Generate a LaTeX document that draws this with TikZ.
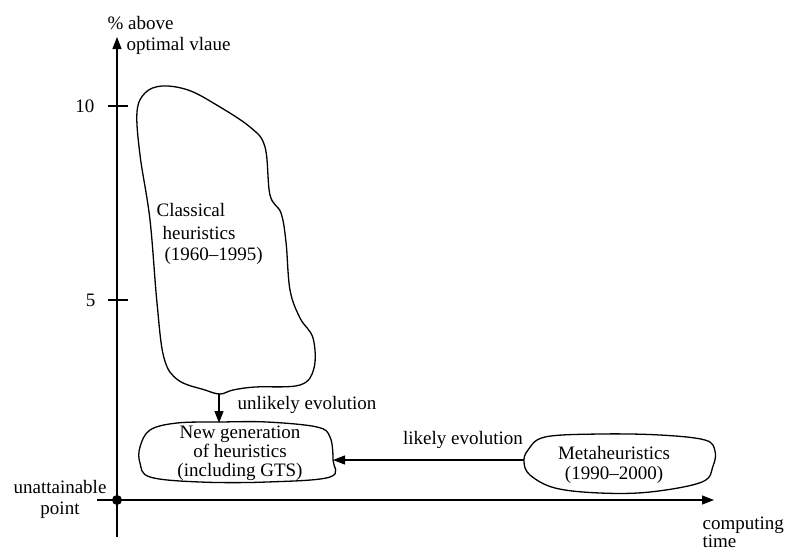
\documentclass[tikz,border=0pt]{standalone}
\usepackage{fontspec}
\setmainfont{Liberation Serif}
\usetikzlibrary{arrows.meta}
\begin{document}
\begin{tikzpicture}[x=1pt,y=-1pt,
  line width=1.2pt,
  txt/.style={inner sep=0pt,font=\fontsize{19}{23}\selectfont},
  arr/.style={-{Triangle[length=12pt,width=9pt]}},
  blob/.style={line width=1.3pt}]
\useasboundingbox (0,0) rectangle (787,550);
% axes
\coordinate (ybot) at (117,537);
\coordinate (ytop) at (117,37);
\coordinate (xleft) at (97,500);
\coordinate (xtip) at (714,500);
\coordinate (O) at (117,500);
\draw[arr] (ybot) -- (ytop);
\draw[arr] (xleft) -- (xtip);
\fill (O) circle (5);
% ticks
\coordinate (t10a) at (108,106); \coordinate (t10b) at (128,106);
\coordinate (t5a) at (108,300); \coordinate (t5b) at (128,300);
\draw (t10a) -- (t10b);
\draw (t5a) -- (t5b);
% axis labels
\node[txt,anchor=west] (pa) at (107,23) {\% above};
\node[txt,anchor=west] (ov) at (126,46) {optimal vlaue};
\node[txt,anchor=east] (l10) at (95,106) {10};
\node[txt,anchor=east] (l5) at (96,300) {5};
\node[txt,align=center,font=\fontsize{19}{21}\selectfont] (ua) at (60,499) {unattainable\\point};
\node[txt,anchor=west] (ct) at (702,525) {computing};
\node[txt,anchor=west] (tm) at (702,541) {time};
% classical heuristics blob
\draw[blob] plot[smooth cycle,tension=0.6] coordinates {
 (137,112) (145,93) (162,86) (188,90) (215,104) (250,127) (265,147)
 (270,195) (281,213) (286,242) (290,290) (300,318) (313,338) (314,368)
 (300,385) (255,387) (233,390) (220,394) (205,390) (178,380) (164,358)
 (157,303) (150,220) (140,155)};
\node[txt,anchor=west] (c1) at (156,210) {Classical};
\node[txt,anchor=west] (c2) at (162,233) {heuristics};
\node[txt,anchor=west] (c3) at (164,256) {(1960–1995)};
% new generation blob
\draw[blob] plot[smooth cycle,tension=0.6] coordinates {
 (150,430) (177,423) (220,422) (267,422) (317,427) (330,437) (333,460)
 (330,477) (267,482) (200,482) (150,477) (140,463) (140,447)};
\node[txt,align=center,font=\fontsize{19}{19}\selectfont] (ng) at (240,453)
 {New generation\\of heuristics\\(including GTS)};
% metaheuristics blob
\draw[blob] plot[smooth cycle,tension=0.6] coordinates {
 (528,450) (545,437) (600,434) (660,435) (705,440) (715,451) (713,466)
 (702,482) (650,492) (600,493) (555,488) (530,475) (524,462)};
\node[txt,align=center,font=\fontsize{19}{20}\selectfont] (mh) at (614,465)
 {Metaheuristics\\(1990–2000)};
% connectors
\coordinate (cdip) at (219,394);
\coordinate (ntop) at (219,423);
\coordinate (nright) at (333,460);
\coordinate (mleft) at (524,460);
\draw[arr] (cdip) -- (ntop);
\draw[arr] (mleft) -- (nright);
\node[txt,anchor=west] (ue) at (237,405) {unlikely evolution};
\node[txt] (le) at (463,440) {likely evolution};
\end{tikzpicture}
\end{document}
